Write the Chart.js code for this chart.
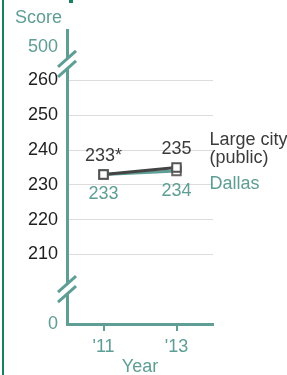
<!DOCTYPE html>
<html>
<head>
<meta charset="utf-8">
<script src="https://cdn.jsdelivr.net/npm/chart.js@4"></script>
<style>
  html, body { margin: 0; padding: 0; background: #fff; }
  canvas { display: block; }
</style>
</head>
<body>
<canvas id="chart" width="287" height="375"></canvas>
<script>
// data
const years = [2011, 2013];
const yearLabels = ["'11", "'13"];
const largeCity = [233, 235];
const dallas = [233, 234];
const largeCityLabels = ['233*', '235'];
const dallasLabels = ['233', '234'];
const yTicks = [210, 220, 230, 240, 250, 260];
// broken axis: real 0 and 500 sit at these stand-in values
const breakLow = 190, breakHigh = 269.5;

const teal = '#5e9e94';
const dark = '#3b3b3b';
const font = '"Liberation Sans", Arial, sans-serif';

const ctx = document.getElementById('chart').getContext('2d');

const extras = {
    id: 'extras',
    afterDraw(chart) {
        const c = chart.ctx;
        const xs = chart.scales.x, ys = chart.scales.y;
        c.save();
        // frame line on the left
        c.fillStyle = '#17805c';
        c.fillRect(2, 0, 2, 375);
        c.fillRect(69, 0, 4, 3);

        // axis titles
        c.font = '18px ' + font;
        c.fillStyle = teal;
        c.textAlign = 'left';
        c.textBaseline = 'middle';
        c.fillText('Score', 15, 18);
        c.textAlign = 'center';
        c.fillText('Year', (chart.chartArea.left + chart.chartArea.right) / 2, 367);

        // axis breaks
        const ax = chart.chartArea.left;
        [[ys.getPixelForValue(breakHigh), ys.getPixelForValue(260)],
         [ys.getPixelForValue(210), ys.getPixelForValue(breakLow)]].forEach(([a, b]) => {
            const mid = (a + b) / 2;
            c.fillStyle = '#fff';
            c.fillRect(ax - 4, mid - 5, 8, 10);
            c.strokeStyle = teal;
            c.lineWidth = 3;
            [-5, 5].forEach(off => {
                c.beginPath();
                c.moveTo(ax - 9, mid + off + 8);
                c.lineTo(ax + 9, mid + off - 8);
                c.stroke();
            });
        });

        // value labels
        const m0 = chart.getDatasetMeta(0).data;
        const m1 = chart.getDatasetMeta(1).data;
        c.fillStyle = dark;
        m0.forEach((p, i) => c.fillText(largeCityLabels[i], p.x, p.y - 18));
        c.fillStyle = teal;
        m1.forEach((p, i) => c.fillText(dallasLabels[i], p.x, p.y + 20));

        // series names
        c.textAlign = 'left';
        const lx = xs.getPixelForValue(years[1]) + 33;
        const ly = ys.getPixelForValue(largeCity[1]);
        c.fillStyle = dark;
        c.fillText('Large city', lx, ly - 27);
        c.fillText('(public)', lx, ly - 9);
        c.fillStyle = teal;
        c.fillText('Dallas', lx, ys.getPixelForValue(dallas[1]) + 13);
        c.restore();
    }
};

new Chart(ctx, {
    type: 'line',
    data: {
        datasets: [{
            label: 'Large city (public)',
            data: years.map((x, i) => ({ x: x, y: largeCity[i] })),
            borderColor: '#444',
            borderWidth: 3,
            pointStyle: 'rect',
            pointRadius: 6,
            pointBorderWidth: 2,
            pointBackgroundColor: '#fff',
            pointBorderColor: '#555',
            order: 0
        }, {
            label: 'Dallas',
            data: years.map((x, i) => ({ x: x, y: dallas[i] })),
            borderColor: teal,
            borderWidth: 3,
            pointStyle: 'rect',
            pointRadius: 6,
            pointBorderWidth: 2,
            pointBackgroundColor: '#fff',
            pointBorderColor: '#666',
            order: 1
        }]
    },
    options: {
        responsive: false,
        animation: false,
        layout: { padding: { top: 30, right: 74, left: 0, bottom: 0 } },
        plugins: { legend: { display: false }, tooltip: { enabled: false } },
        scales: {
            x: {
                type: 'linear',
                min: 2010,
                max: 2014,
                afterBuildTicks: s => { s.ticks = years.map(v => ({ value: v })); },
                afterFit: s => { s.height = 51; },
                border: { color: teal, width: 3 },
                grid: { drawOnChartArea: false, drawTicks: true, tickLength: 7, color: teal, lineWidth: 2 },
                ticks: {
                    color: teal,
                    font: { family: font, size: 18 },
                    padding: 5,
                    callback: v => yearLabels[years.indexOf(v)]
                }
            },
            y: {
                type: 'linear',
                min: breakLow,
                max: 274.5,
                afterBuildTicks: s => {
                    s.ticks = [breakLow].concat(yTicks, [breakHigh]).map(v => ({ value: v }));
                },
                afterFit: s => { s.width = 67; },
                border: { color: teal, width: 3 },
                grid: {
                    drawTicks: false,
                    color: c => (c.tick && yTicks.includes(c.tick.value)) ? '#dcdcdc' : 'rgba(0,0,0,0)',
                    lineWidth: 1
                },
                ticks: {
                    padding: 9,
                    font: { family: font, size: 18 },
                    color: c => yTicks.includes(c.tick.value) ? '#1e1e1e' : teal,
                    callback: v => v === breakLow ? '0' : (v === breakHigh ? '500' : String(v))
                }
            }
        }
    },
    plugins: [extras]
});
</script>
</body>
</html>
